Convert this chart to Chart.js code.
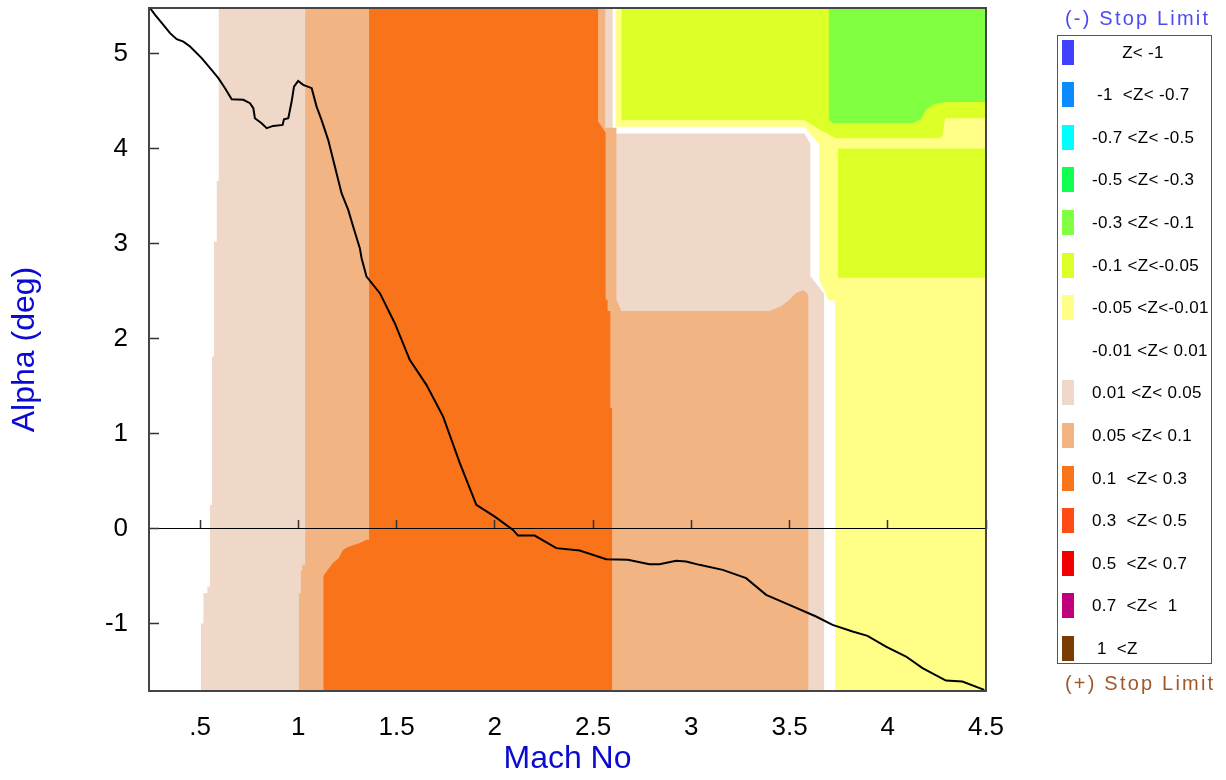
<!DOCTYPE html>
<html>
<head>
<meta charset="utf-8">
<title>Alpha vs Mach</title>
<script src="https://cdn.jsdelivr.net/npm/chart.js@4.4.1/dist/chart.umd.min.js"></script>
<style>
  body { margin: 0; background: #fff; font-family: "Liberation Sans", Arial, sans-serif; }
  #wrap { position: relative; width: 1226px; height: 780px; }
  #chart { position: absolute; left: 0; top: 0; }
  .stop { position: absolute; left: 1065px; font-size: 20px; line-height: 24px; letter-spacing: 2.2px; white-space: pre; }
  #legend { position: absolute; left: 1057px; top: 35px; width: 153px; height: 627px; border: 1px solid #555; }
  .row { position: absolute; left: 0; width: 153px; height: 25px; }
  .sw { position: absolute; left: 4px; top: 0; width: 12px; height: 25px; }
  .lab { position: absolute; left: 34px; top: 0; line-height: 25px; font-size: 17px; letter-spacing: 0.3px; white-space: pre; color: #000; }
</style>
</head>
<body>
<div id="wrap">
  <canvas id="chart" width="1226" height="780"></canvas>
  <div class="stop" style="top:6px;color:#4b4bf0">(-) Stop Limit</div>
  <div id="legend"></div>
  <div class="stop" style="top:671px;color:#a0582a">(+) Stop Limit</div>
</div>
<script>
var xMin = 0.24, xMax = 4.5;
var yMin = -1.71, yMax = 5.48;

var xTickVals = [0.5, 1, 1.5, 2, 2.5, 3, 3.5, 4, 4.5];
var xTickLabels = ['.5', '1', '1.5', '2', '2.5', '3', '3.5', '4', '4.5'];
var yTickVals = [-1, 0, 1, 2, 3, 4, 5];
var yTickLabels = ['-1', '0', '1', '2', '3', '4', '5'];

// Z bands, top of the legend first
var bandLabels = ['      Z< -1', ' -1  <Z< -0.7', '-0.7 <Z< -0.5', '-0.5 <Z< -0.3', '-0.3 <Z< -0.1',
  '-0.1 <Z<-0.05', '-0.05 <Z<-0.01', '-0.01 <Z< 0.01', '0.01 <Z< 0.05', '0.05 <Z< 0.1',
  '0.1  <Z< 0.3', '0.3  <Z< 0.5', '0.5  <Z< 0.7', '0.7  <Z<  1', ' 1  <Z'];
var bandColors = ['#4040ff', '#0a8cff', '#00ffff', '#10ff50', '#80ff40',
  '#dcff28', '#ffff88', '#ffffff', '#f0d8c8', '#f2b482',
  '#f9731b', '#ff4c14', '#f00000', '#c0007e', '#7a3c00'];

// trajectory
var curveMach = [0.245, 0.271, 0.313, 0.347, 0.381, 0.415, 0.449, 0.508, 0.551, 0.593, 0.627, 0.661, 0.720, 0.754,
  0.771, 0.779, 0.813, 0.839, 0.872, 0.920, 0.927, 0.949, 0.966, 0.978, 0.999, 1.025, 1.068, 1.093, 1.118, 1.152,
  1.186, 1.220, 1.254, 1.279, 1.313, 1.322, 1.347, 1.415, 1.491, 1.567, 1.652, 1.737, 1.822, 1.906, 2.000, 2.093,
  2.118, 2.203, 2.313, 2.432, 2.567, 2.677, 2.787, 2.838, 2.923, 2.974, 3.041, 3.160, 3.279, 3.381, 3.499, 3.635,
  3.719, 3.821, 3.897, 3.991, 4.093, 4.177, 4.296, 4.380, 4.491];
var curveAlpha = [5.48, 5.407, 5.302, 5.215, 5.152, 5.126, 5.074, 4.952, 4.846, 4.741, 4.636, 4.520, 4.513, 4.478,
  4.425, 4.320, 4.267, 4.215, 4.239, 4.249, 4.309, 4.320, 4.495, 4.653, 4.713, 4.671, 4.636, 4.442, 4.302, 4.092,
  3.811, 3.531, 3.355, 3.179, 2.952, 2.846, 2.653, 2.478, 2.162, 1.776, 1.513, 1.179, 0.688, 0.249, 0.126, -0.014,
  -0.074, -0.074, -0.206, -0.232, -0.322, -0.329, -0.375, -0.375, -0.340, -0.347, -0.382, -0.435, -0.522, -0.698,
  -0.803, -0.926, -1.014, -1.084, -1.129, -1.242, -1.347, -1.469, -1.600, -1.611, -1.698];

// contour boundaries [mach, alpha]; 'start' fills down to the bottom, 'end' up to the top
var pinkLeft = [[0.503, -1.0], [0.517, -1.0], [0.517, -0.68], [0.537, -0.68], [0.537, -0.61], [0.550, -0.61],
  [0.550, 0.25], [0.561, 0.25], [0.561, 1.81], [0.571, 1.81], [0.571, 3.02], [0.585, 3.02], [0.585, 3.66],
  [0.595, 3.66], [0.595, 5.5], [2.0, 5.5]];
var lightOrangeLeft = [[1.003, -0.68], [1.013, -0.68], [1.013, -0.44], [1.020, -0.44], [1.020, -0.38],
  [1.035, -0.38], [1.035, 5.5], [2.0, 5.5]];
var yellowRight = [[2.59, 5.5], [4.5, 5.5]];
var whiteRight = [[2.597, 5.5], [2.615, 5.5], [2.615, 4.23], [3.576, 4.23], [3.652, 4.04], [3.652, 2.62],
  [3.700, 2.40], [3.733, 2.40]];
var pinkRight = [[2.564, 5.5], [2.600, 5.5], [2.600, 4.20], [2.617, 4.16], [3.576, 4.16], [3.606, 4.05],
  [3.606, 2.66], [3.677, 2.47]];
var lightOrangeRight = [[2.528, 5.5], [2.564, 5.5], [2.564, 4.22], [2.619, 4.22], [2.619, 2.41], [2.632, 2.35],
  [2.644, 2.29], [3.398, 2.29], [3.457, 2.34], [3.499, 2.41], [3.533, 2.48], [3.567, 2.51], [3.584, 2.49],
  [3.597, 2.45]];
var orangeMain = [[1.127, -0.50], [1.149, -0.436], [1.176, -0.362], [1.206, -0.309], [1.227, -0.225],
  [1.252, -0.193], [1.313, -0.151], [1.347, -0.119], [1.360, -0.119], [1.360, 5.5], [2.528, 5.5], [2.528, 4.28],
  [2.564, 4.17], [2.564, 2.41], [2.574, 2.41], [2.574, 2.29], [2.588, 2.29], [2.588, 1.27], [2.598, 1.27]];
var yellowGreenBlock = [[3.745, 4.00], [4.5, 4.00]];
var yellowLower = [[3.733, 2.64], [4.5, 2.64]];
var yellowGreenTop = [[2.644, 4.30], [3.576, 4.30], [3.652, 4.20], [3.737, 4.11], [4.262, 4.11], [4.279, 4.14],
  [4.292, 4.32], [4.5, 4.32]];
var greenTop = [[3.699, 4.34], [3.705, 4.29], [3.725, 4.27], [4.126, 4.27], [4.169, 4.31], [4.194, 4.41],
  [4.236, 4.47], [4.296, 4.49], [4.5, 4.49]];

// painted back to front: [band, fill, boundary]
var layers = [
  [8, 'start', pinkLeft],
  [9, 'start', lightOrangeLeft],
  [6, 'start', yellowRight],
  [7, 'start', whiteRight],
  [8, 'start', pinkRight],
  [9, 'start', lightOrangeRight],
  [10, 'start', orangeMain],
  [5, 'start', yellowGreenBlock],
  [6, 'start', yellowLower],
  [5, 'end', yellowGreenTop],
  [4, 'end', greenTop]
];

var frameColor = '#454545';
var titleBlue = '#0a0ad0';

function setTicks(vals) {
  return function (axis) {
    axis.ticks = vals.map(function (v) { return {value: v}; });
  };
}

var datasets = layers.map(function (l, i) {
  return {
    label: bandLabels[l[0]].trim(),
    data: l[2].map(function (p) { return {x: p[0], y: p[1]}; }),
    xAxisID: 'x',
    yAxisID: 'y',
    showLine: true,
    fill: l[1],
    backgroundColor: bandColors[l[0]],
    borderColor: 'rgba(0,0,0,0)',
    borderWidth: 0,
    pointRadius: 0,
    tension: 0,
    order: layers.length - i + 1
  };
});

datasets.push({
  label: 'Alpha',
  data: curveMach.map(function (m, i) { return {x: m, y: curveAlpha[i]}; }),
  xAxisID: 'x',
  yAxisID: 'y',
  showLine: true,
  fill: false,
  borderColor: '#000',
  borderWidth: 2,
  pointRadius: 0,
  tension: 0,
  order: 0
});

var ctx = document.getElementById('chart');
var chart = new Chart(ctx, {
  type: 'scatter',
  data: {datasets: datasets},
  options: {
    responsive: false,
    animation: false,
    events: [],
    layout: {padding: {left: 0, top: 8, right: 240, bottom: 0}},
    plugins: {legend: {display: false}, tooltip: {enabled: false}},
    scales: {
      x: {
        type: 'linear', position: 'bottom', min: xMin, max: xMax,
        afterBuildTicks: setTicks(xTickVals),
        afterFit: function (a) { a.height = 89; },
        grid: {display: false, drawTicks: false},
        border: {display: true, color: frameColor, width: 2, z: 1},
        ticks: {
          color: '#000', padding: 21, maxRotation: 0, autoSkip: false,
          font: {family: '"Liberation Sans", Arial', size: 26},
          callback: function (v) { return xTickLabels[xTickVals.indexOf(v)]; }
        },
        title: {display: true, text: 'Mach No', color: titleBlue,
          font: {family: '"Liberation Sans", Arial', size: 32}, padding: {top: 0, bottom: 2}}
      },
      x0: {
        type: 'linear', axis: 'x', position: {y: 0}, min: xMin, max: xMax,
        afterBuildTicks: setTicks(xTickVals),
        afterFit: function (a) { a.height = 0; },
        ticks: {display: false},
        grid: {display: true, drawOnChartArea: false, drawTicks: true, tickLength: -9,
          tickColor: '#333', tickWidth: 1.5, z: 1},
        border: {display: true, color: '#000', width: 1, z: 1}
      },
      xTop: {
        type: 'linear', axis: 'x', position: 'top',
        afterFit: function (a) { a.height = 0; },
        ticks: {display: false},
        grid: {display: false, drawTicks: false},
        border: {display: true, color: frameColor, width: 2, z: 1}
      },
      y: {
        type: 'linear', position: 'left', min: yMin, max: yMax,
        afterBuildTicks: setTicks(yTickVals),
        afterFit: function (a) {
          a.width = 149;
          // the large label padding must not push the plot down
          a.paddingTop = 0;
          a.paddingBottom = 0;
        },
        grid: {display: true, drawOnChartArea: false, drawTicks: true, tickLength: -10,
          tickColor: '#333', tickWidth: 1.5, z: 1},
        border: {display: true, color: frameColor, width: 2, z: 1},
        ticks: {
          color: '#000', padding: 31,
          font: {family: '"Liberation Sans", Arial', size: 26},
          callback: function (v) { return yTickLabels[yTickVals.indexOf(v)]; }
        },
        title: {display: true, text: 'Alpha (deg)', color: titleBlue,
          font: {family: '"Liberation Sans", Arial', size: 32}, padding: {top: 6, bottom: 0}}
      },
      yRight: {
        type: 'linear', axis: 'y', position: 'right',
        afterFit: function (a) { a.width = 0; },
        ticks: {display: false},
        grid: {display: false, drawTicks: false},
        border: {display: true, color: frameColor, width: 2, z: 1}
      }
    }
  }
});

// legend box on the right
var legend = document.getElementById('legend');
bandLabels.forEach(function (label, i) {
  var row = document.createElement('div');
  row.className = 'row';
  row.style.top = (16 + 42.6 * i - 12.5) + 'px';
  var sw = document.createElement('div');
  sw.className = 'sw';
  sw.style.background = bandColors[i];
  var lab = document.createElement('div');
  lab.className = 'lab';
  lab.textContent = label;
  row.appendChild(sw);
  row.appendChild(lab);
  legend.appendChild(row);
});
</script>
</body>
</html>
